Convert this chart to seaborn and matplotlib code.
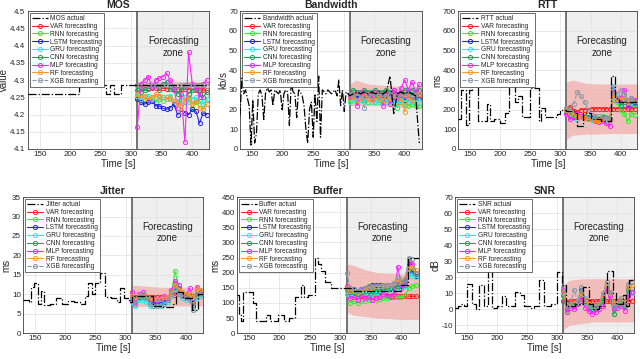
import matplotlib
matplotlib.use("Agg")
import matplotlib.pyplot as plt
import matplotlib.ticker as mticker
import seaborn as sns

sns.set_theme(style="whitegrid")
plt.rcParams['font.family'] = ['Liberation Sans', 'DejaVu Sans']
plt.rcParams['axes.edgecolor'] = '0.25'
plt.rcParams['axes.linewidth'] = 0.6
plt.rcParams['grid.color'] = '0.88'
plt.rcParams['grid.linewidth'] = 0.5

# ---- shared time bases ----
fc_t = list(range(310, 428, 6))          # forecast sample times
band_t = [310, 320, 340, 360, 380, 400, 428]
models = ['VAR', 'RNN', 'LSTM', 'GRU', 'CNN', 'MLP', 'RF', 'XGB']
model_colors = ['#ff2020', '#33ee33', '#2222ee', '#22eeee', '#1f9e5c', '#ff22ff', '#ff9922', '#8899aa']

# ---- MOS ----
mos_t = [130, 215, 258, 266, 272, 283, 428]
mos_actual = [4.26, 4.287, 4.26, 4.287, 4.26, 4.287, 4.287]
mos_var = [4.285, 4.28, 4.279, 4.278, 4.277, 4.277, 4.276, 4.276, 4.275, 4.275, 4.274, 4.274, 4.273, 4.273, 4.272, 4.272, 4.272, 4.271, 4.271, 4.27]
mos_rnn = [4.26, 4.235, 4.245, 4.24, 4.25, 4.235, 4.245, 4.24, 4.25, 4.245, 4.23, 4.24, 4.21, 4.235, 4.245, 4.22, 4.235, 4.24, 4.215, 4.245]
mos_lstm = [4.245, 4.235, 4.23, 4.235, 4.24, 4.225, 4.225, 4.218, 4.215, 4.22, 4.23, 4.2, 4.21, 4.205, 4.2, 4.215, 4.21, 4.175, 4.205, 4.2]
mos_gru = [4.255, 4.245, 4.25, 4.255, 4.245, 4.25, 4.255, 4.25, 4.245, 4.255, 4.24, 4.23, 4.255, 4.25, 4.235, 4.245, 4.25, 4.24, 4.23, 4.245]
mos_cnn = [4.27, 4.265, 4.27, 4.275, 4.28, 4.285, 4.27, 4.29, 4.295, 4.275, 4.27, 4.26, 4.27, 4.28, 4.26, 4.27, 4.275, 4.26, 4.25, 4.265]
mos_mlp = [4.165, 4.29, 4.3, 4.31, 4.28, 4.3, 4.305, 4.31, 4.32, 4.3, 4.28, 4.22, 4.26, 4.12, 4.38, 4.29, 4.28, 4.25, 4.29, 4.3]
mos_rf = [4.26, 4.25, 4.255, 4.245, 4.25, 4.26, 4.255, 4.25, 4.245, 4.25, 4.24, 4.23, 4.21, 4.245, 4.25, 4.23, 4.24, 4.22, 4.215, 4.23]
mos_xgb = [4.285, 4.283, 4.284, 4.285, 4.286, 4.285, 4.284, 4.285, 4.286, 4.285, 4.284, 4.283, 4.285, 4.286, 4.285, 4.284, 4.285, 4.286, 4.285, 4.284]
mos_lo = [4.278, 4.279, 4.28, 4.28, 4.28, 4.28, 4.28]
mos_hi = [4.295, 4.297, 4.297, 4.296, 4.296, 4.296, 4.296]

# ---- Bandwidth ----
bw_t = list(range(130, 311, 3)) + list(range(316, 428, 6))
bw_actual = [17, 36, 28, 30, 26, 22, 2, 25, 3, 8,
             28, 30, 27, 15, 29, 31, 29, 30, 22, 30,
             29, 28, 30, 20, 28, 30, 29, 12, 34, 29,
             28, 16, 30, 29, 27, 22, 10, 3, 20, 24,
             6, 28, 14, 37, 6, 30, 29, 28, 30, 29,
             28, 29, 30, 27, 35, 22, 30, 19, 29, 28,
             27,
             28, 29, 28, 29, 28, 29, 28, 29, 28, 29, 37, 18, 28, 29, 28, 29, 28, 27, 3]
bw_var = [27, 27.5, 27.5, 27.5, 27.5, 27.5, 27.5, 27.5, 27.5, 27.5, 27.5, 27.5, 27.5, 27.5, 27.5, 27.5, 27.5, 27.5, 27.5, 27.5]
bw_rnn = [25, 26, 24, 25, 25, 24, 26, 24, 25, 24, 25, 24, 23, 21, 24, 23, 22, 23, 22, 22]
bw_lstm = [26, 27, 26, 27, 26, 27, 26, 27, 26, 27, 26, 27, 25, 24, 26, 25, 26, 25, 26, 26]
bw_gru = [24, 25, 24, 25, 24, 26, 24, 25, 24, 25, 24, 26, 24, 23, 25, 24, 25, 24, 25, 24]
bw_cnn = [28, 30, 29, 29, 30, 29, 29, 30, 29, 29, 30, 29, 30, 28, 29, 30, 29, 30, 29, 30]
bw_mlp = [27, 28, 22, 29, 27, 28, 26, 29, 27, 22, 28, 23, 30, 27, 31, 35, 30, 34, 29, 33]
bw_rf = [26, 27, 25, 26, 27, 26, 25, 27, 26, 25, 27, 26, 27, 24, 26, 19, 27, 25, 28, 28]
bw_xgb = [28, 28, 27, 28, 21, 28, 27, 28, 27, 28, 27, 28, 27, 26, 28, 27, 28, 27, 28, 27]
bw_lo = [22, 22, 22, 22, 21.5, 21, 21]
bw_hi = [33, 35, 33, 32.5, 32, 32, 32]

# ---- RTT ----
rtt_t = [130, 135, 143, 148, 153, 158, 163, 178, 183, 190, 200, 208, 215, 225, 230, 236, 250, 265, 268, 275,
         295, 300, 310, 322, 328, 338, 350, 368, 384, 390, 398, 428]
rtt_actual = [150, 300, 120, 300, 320, 340, 140, 230, 140, 150, 130, 185, 320, 240, 270, 160, 310, 140, 210, 160,
              180, 200, 195, 185, 115, 185, 150, 140, 370, 260, 240, 240]
rtt_var = [200, 215, 195, 190, 200, 200, 200, 205, 205, 205, 205, 205, 205, 205, 205, 205, 205, 205, 205, 205]
rtt_rnn = [195, 180, 175, 160, 170, 165, 160, 160, 155, 150, 165, 160, 150, 250, 240, 200, 180, 140, 180, 175]
rtt_lstm = [190, 170, 160, 165, 170, 160, 155, 155, 150, 150, 160, 155, 150, 300, 260, 240, 250, 230, 250, 240]
rtt_gru = [185, 170, 155, 150, 160, 150, 150, 145, 140, 140, 150, 145, 140, 320, 270, 230, 260, 240, 240, 230]
rtt_cnn = [195, 175, 165, 160, 165, 160, 155, 150, 150, 145, 155, 150, 145, 290, 260, 220, 240, 250, 230, 235]
rtt_mlp = [180, 150, 170, 180, 170, 155, 160, 150, 140, 135, 140, 130, 115, 310, 250, 260, 300, 220, 260, 250]
rtt_rf = [200, 185, 175, 165, 160, 155, 150, 150, 145, 145, 150, 150, 145, 280, 260, 250, 260, 240, 250, 245]
rtt_xgb = [210, 195, 230, 290, 270, 240, 200, 175, 170, 165, 160, 155, 150, 310, 280, 300, 280, 250, 260, 245]
rtt_lo = [50, 70, 75, 75, 78, 78, 78]
rtt_hi = [340, 350, 335, 330, 330, 330, 330]

# ---- Jitter ----
jit_t = [130, 140, 143, 148, 155, 160, 165, 175, 185, 195, 205, 215, 225, 232, 238, 245, 250, 258, 265, 275,
         285, 290, 298, 305, 310, 330, 345, 360, 378, 383, 395, 410, 416, 420, 428]
jit_actual = [8.5, 8, 12, 12.8, 7.5, 10.8, 7.3, 7.5, 9, 7.5, 8.3, 8, 7.5, 9.5, 12.8, 10, 13, 15.5, 9.3, 9,
              8, 11.5, 9, 8, 9.5, 9.5, 7, 6.8, 7.5, 10.5, 9, 6, 6, 10, 10]
jit_var = [9.5, 9.2, 9.3, 9.3, 9.3, 9.2, 9.2, 9.2, 9.2, 9.2, 9.3, 9.5, 9.8, 10, 9.8, 9.7, 9.6, 9.5, 9.6, 9.6]
jit_rnn = [9, 8.5, 9.5, 9.5, 9, 8.8, 8.5, 8.5, 8.5, 9, 9, 10.5, 16, 11.5, 10, 9.5, 10, 9, 11.5, 11]
jit_lstm = [8.5, 8, 9, 9.5, 9, 8, 7.5, 7.5, 7.8, 8, 8.5, 10, 12, 11, 10, 9.5, 9, 7, 10, 10.5]
jit_gru = [8, 7, 8.5, 8.5, 8, 7, 7, 7, 7, 7.5, 8, 9.5, 11, 10, 9, 8.5, 8.5, 6, 9, 9.5]
jit_cnn = [9, 8.2, 9.3, 9.8, 9.2, 8.5, 8.3, 8.3, 8.3, 8.8, 9, 10.5, 13, 11.5, 10.5, 10, 10, 8, 11, 11.2]
jit_mlp = [10.5, 8, 10, 10.5, 9.5, 9, 9, 8.5, 9, 9.5, 9, 11, 13.5, 12.5, 9.5, 10, 11.5, 8, 12, 10.5]
jit_rf = [9.5, 8.5, 9.8, 10, 9.5, 9, 8.8, 8.8, 8.8, 9.2, 9.2, 10.2, 12.5, 11.2, 10.5, 10, 10, 8.5, 11.5, 11]
jit_xgb = [9, 7.5, 9.5, 10, 9, 7.5, 7, 7, 7.2, 7.5, 8.5, 10, 11, 10, 9.5, 9, 8.5, 6, 10, 10]
jit_lo = [6.5, 6.8, 7, 7, 7, 7, 7]
jit_hi = [12.3, 12.3, 12, 11.8, 11.8, 11.8, 11.8]

# ---- Buffer ----
buf_t = [130, 133, 137, 140, 157, 161, 170, 178, 185, 197, 208, 215, 225, 235, 240, 247, 258, 263, 268, 275,
         285, 310, 322, 395, 400, 410, 428]
buf_actual = [125, 60, 40, 135, 100, 40, 40, 60, 40, 60, 40, 50, 120, 160, 120, 125, 250, 230, 205, 170,
              150, 150, 140, 140, 160, 250, 250]
buf_var = [150, 130, 125, 122, 122, 122, 122, 122, 122, 122, 122, 122, 122, 122, 122, 122, 122, 122, 122, 122]
buf_rnn = [130, 100, 105, 100, 105, 105, 110, 110, 110, 112, 115, 115, 118, 118, 120, 120, 125, 150, 155, 158]
buf_lstm = [150, 140, 145, 140, 145, 150, 155, 160, 160, 160, 160, 160, 160, 165, 165, 170, 175, 230, 200, 190]
buf_gru = [140, 125, 130, 125, 130, 135, 130, 130, 135, 130, 135, 140, 140, 145, 150, 150, 155, 200, 190, 185]
buf_cnn = [145, 135, 135, 130, 135, 140, 140, 140, 140, 140, 145, 145, 150, 150, 155, 160, 165, 220, 210, 195]
buf_mlp = [155, 115, 120, 110, 125, 115, 120, 110, 115, 120, 130, 125, 120, 130, 220, 150, 160, 240, 230, 200]
buf_rf = [150, 140, 140, 135, 140, 145, 150, 150, 155, 155, 160, 160, 160, 165, 170, 175, 180, 215, 220, 210]
buf_xgb = [200, 150, 145, 140, 145, 150, 155, 155, 155, 155, 160, 160, 160, 165, 185, 170, 180, 250, 245, 200]
buf_lo = [70, 60, 55, 50, 48, 45, 45]
buf_hi = [230, 225, 210, 200, 198, 195, 195]

# ---- SNR ----
snr_t = [130, 135, 140, 145, 150, 158, 165, 170, 178, 185, 192, 200, 208, 215, 230, 238, 245, 255, 262, 270,
         278, 290, 300, 308, 315, 330, 343, 352, 360, 370, 378, 383, 392, 398, 410, 415, 420, 428]
snr_actual = [1, 2, 3, 2, 16, 3, 0, 15, 2, 25, 1, 2, 8, 2, 11, 9, 2, 1, 2, 18,
              2, 3, 23, 15, 2, 3, 14, 3, 0, 2, 10, 24, 10, 3, 9, 2, 18, 18]
snr_var = [5, 4.5, 5, 5.2, 5, 5, 5.1, 5, 5, 5, 5, 5.2, 5, 5, 5, 5, 5, 5, 5, 5]
snr_rnn = [8, -1, 3, 2, 4, 10, 5, 0, 1, 0, 2, 6, 14, 8, -3, 4, 3, 2, 12, 10]
snr_lstm = [10, 2, 3, 3, 5, 12, 6, 2, 2, 1, 3, 8, 15, 10, 3, 3, 5, 3, 13, 11]
snr_gru = [9, 1, 2, 2, 4, 11, 4, 0, -1, 0, 2, 7, 14, 9, 2, 2, 4, 2, 11, 10]
snr_cnn = [9, 0, 3, 2, 4, 11, 5, 1, 0, 0, 2, 7, 15, 9, -3, 3, 5, 2, 12, 11]
snr_mlp = [12, -2, 1, 0, 3, 8, 1, -1, -3, -2, 0, 2, 12, 8, 0, 1, 2, -1, 8, 11]
snr_rf = [10, 2, 3, 4, 5, 10, 6, 3, 2, 2, 3, 9, 15, 10, 4, 4, 6, 4, 14, 15]
snr_xgb = [14, 2, 3, 12, 5, 14, 7, 2, 2, 2, 4, 10, 17, 11, 2, 4, 7, 3, 16, 17]
snr_lo = [-13, -10, -9, -8, -8, -8, -8]
snr_hi = [15, 18, 19, 19, 19, 19, 19]

panels = [
    ('MOS', 'Value', mos_t, mos_actual, True, [mos_var, mos_rnn, mos_lstm, mos_gru, mos_cnn, mos_mlp, mos_rf, mos_xgb],
     mos_lo, mos_hi, (4.1, 4.5), 0.05),
    ('Bandwidth', 'kb/s', bw_t, bw_actual, False, [bw_var, bw_rnn, bw_lstm, bw_gru, bw_cnn, bw_mlp, bw_rf, bw_xgb],
     bw_lo, bw_hi, (0, 70), 10),
    ('RTT', 'ms', rtt_t, rtt_actual, True, [rtt_var, rtt_rnn, rtt_lstm, rtt_gru, rtt_cnn, rtt_mlp, rtt_rf, rtt_xgb],
     rtt_lo, rtt_hi, (0, 700), 100),
    ('Jitter', 'ms', jit_t, jit_actual, True, [jit_var, jit_rnn, jit_lstm, jit_gru, jit_cnn, jit_mlp, jit_rf, jit_xgb],
     jit_lo, jit_hi, (0, 35), 5),
    ('Buffer', 'ms', buf_t, buf_actual, True, [buf_var, buf_rnn, buf_lstm, buf_gru, buf_cnn, buf_mlp, buf_rf, buf_xgb],
     buf_lo, buf_hi, (0, 450), 50),
    ('SNR', 'dB', snr_t, snr_actual, True, [snr_var, snr_rnn, snr_lstm, snr_gru, snr_cnn, snr_mlp, snr_rf, snr_xgb],
     snr_lo, snr_hi, (-15, 70), 10),
]

# axes boxes in figure fractions [left, bottom, width, height]
boxes = [
    [0.043, 0.585, 0.284, 0.384],
    [0.375, 0.585, 0.284, 0.384],
    [0.716, 0.585, 0.280, 0.384],
    [0.036, 0.072, 0.281, 0.379],
    [0.370, 0.072, 0.284, 0.379],
    [0.711, 0.072, 0.280, 0.379],
]

fig = plt.figure(figsize=(6.4, 3.59), dpi=100)

for (name, ylab, at, av, steps, fcs, lo, hi, ylim, ystep), box in zip(panels, boxes):
    ax = fig.add_axes(box)
    ax.set_axisbelow(True)
    ax.axvspan(310, 428, color='#efefef', zorder=0, lw=0)
    ax.fill_between(band_t, lo, hi, color='#f2aaa6', alpha=0.7, lw=0, zorder=1)
    ax.axvline(310, color='0.45', lw=1.4, zorder=1.5)

    sns.lineplot(x=at, y=av, ax=ax, color='black', linestyle='-.', linewidth=0.9,
                 drawstyle='steps-post' if steps else 'default', label=f'{name} actual', zorder=4)
    for m, c, vals in zip(models, model_colors, fcs):
        sns.lineplot(x=fc_t, y=vals, ax=ax, color=c, marker='o', markersize=3,
                     markerfacecolor='none', markeredgecolor=c, markeredgewidth=0.7,
                     linewidth=0.8, linestyle='--' if m == 'XGB' else '-',
                     label=f'{m} forecasting', zorder=3)

    ax.set_xlim(130, 428)
    ax.set_ylim(*ylim)
    ax.xaxis.set_major_locator(mticker.MultipleLocator(50))
    ax.yaxis.set_major_locator(mticker.MultipleLocator(ystep))
    ax.yaxis.set_major_formatter(mticker.FuncFormatter(lambda v, p: f'{v:g}'))
    ax.tick_params(labelsize=5.8, direction='in', length=2, pad=1.5, colors='0.15')
    ax.grid(True, color='0.88', lw=0.5)
    ax.set_title(name, fontsize=7.5, fontweight='bold', pad=2)
    ax.set_ylabel(ylab, fontsize=7, labelpad=0.5)
    ax.set_xlabel('Time [s]', fontsize=7, labelpad=0.5)
    for s in ax.spines.values():
        s.set_color('0.25')
        s.set_linewidth(0.6)

    ymin, ymax = ylim
    ax.text(369, ymin + 0.74 * (ymax - ymin), 'Forecasting\nzone', ha='center', va='center',
            fontsize=7, color='0.15', linespacing=1.2)

    leg = ax.legend(loc='upper left', fontsize=4.8, frameon=True, fancybox=False, framealpha=1,
                    edgecolor='0.2', labelspacing=0.12, handlelength=2.4, handletextpad=0.4,
                    borderpad=0.3, borderaxespad=0.3)
    leg.get_frame().set_linewidth(0.5)

plt.savefig('out.png', dpi=100)
